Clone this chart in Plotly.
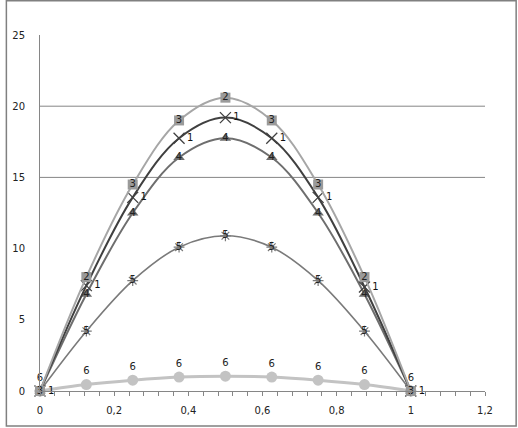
import plotly.graph_objects as go

x = [0, 0.125, 0.25, 0.375, 0.5, 0.625, 0.75, 0.875, 1]

s_square = [0, 8.0, 14.5, 19.0, 20.6, 19.0, 14.5, 8.0, 0]
s_cross = [0, 7.4, 13.6, 17.75, 19.2, 17.75, 13.6, 7.3, 0]
s_tri = [0, 6.8, 12.5, 16.4, 17.75, 16.4, 12.5, 6.8, 0]
s_star = [0, 4.2, 7.75, 10.1, 10.9, 10.1, 7.75, 4.2, 0]
s_circ = [0, 0.45, 0.76, 0.98, 1.04, 0.98, 0.76, 0.45, 0]

lab_square = ["3", "2", "3", "3", "2", "3", "3", "2", "3"]
lab_cross = ["1"] * 9
lab_tri = ["4"] * 9
lab_star = ["5"] * 9
lab_circ = ["6"] * 9

x_ticks = [0, 0.2, 0.4, 0.6, 0.8, 1, 1.2]
x_ticktext = ["0", "0,2", "0,4", "0,6", "0,8", "1", "1,2"]
y_ticks = [0, 5, 10, 15, 20, 25]
grid_y = [15, 20]

FONT = "DejaVu Sans"

fig = go.Figure()

fig.add_trace(go.Scatter(
    x=x, y=s_circ, mode="lines+markers+text", line=dict(color="#C3C3C3", width=3, shape="spline"),
    marker=dict(symbol="circle", size=11, color="#C3C3C3"),
    text=lab_circ, textposition="top center", textfont=dict(family=FONT, size=10, color="#222"),
    cliponaxis=False))
fig.add_trace(go.Scatter(
    x=x, y=s_star, mode="lines+markers+text", line=dict(color="#7A7A7A", width=1.6, shape="spline"),
    marker=dict(symbol="asterisk-open", size=9, line=dict(color="#7A7A7A", width=1.2)),
    text=lab_star, textposition="middle center", textfont=dict(family=FONT, size=10, color="#222"),
    cliponaxis=False))
fig.add_trace(go.Scatter(
    x=x, y=s_tri, mode="lines+markers+text", line=dict(color="#6E6E6E", width=2, shape="spline"),
    marker=dict(symbol="triangle-up", size=10, color="#6E6E6E"),
    text=lab_tri, textposition="middle center", textfont=dict(family=FONT, size=10, color="#222"),
    cliponaxis=False))
fig.add_trace(go.Scatter(
    x=x, y=s_cross, mode="lines+markers+text", line=dict(color="#404040", width=2, shape="spline"),
    marker=dict(symbol="x-thin-open", size=11, line=dict(color="#404040", width=1.3)),
    text=lab_cross, textposition="middle right", textfont=dict(family=FONT, size=10, color="#111"),
    cliponaxis=False))
fig.add_trace(go.Scatter(
    x=x, y=s_square, mode="lines+markers+text", line=dict(color="#A6A6A6", width=2, shape="spline"),
    marker=dict(symbol="square", size=10, color="#9A9A9A"),
    text=lab_square, textposition="middle center", textfont=dict(family=FONT, size=10, color="#222"),
    cliponaxis=False))

for gy in grid_y:
    fig.add_shape(type="line", xref="paper", yref="y", x0=0, x1=1, y0=gy, y1=gy,
                  line=dict(color="#868686", width=1), layer="below")

L, R, T, B = 35, 33, 35, 36.5
W, H = 518, 428
pw, ph = W - L - R, H - T - B
fig.add_shape(type="rect", xref="paper", yref="paper",
              x0=(1 - L) / pw, x1=(W - 1.5 - L) / pw,
              y0=-(B - 1.5) / ph, y1=(H - B - 0.8) / ph,
              line=dict(color="#808080", width=1.5), layer="below")

fig.update_layout(
    width=W, height=H, margin=dict(l=L, r=R, t=T, b=B),
    paper_bgcolor="white", plot_bgcolor="white", showlegend=False,
    font=dict(family=FONT, size=10, color="#222"),
)
fig.update_xaxes(range=[0, 1.2], tickvals=x_ticks, ticktext=x_ticktext, showgrid=False, zeroline=False,
                 showline=True, linecolor="#868686", linewidth=1, ticks="outside", ticklen=4,
                 tickcolor="#868686", ticklabelstandoff=6,
                 minor=dict(dtick=0.04, tick0=0, ticks="outside", ticklen=4, tickcolor="#868686", showgrid=False))
fig.update_yaxes(range=[0, 25], tickvals=y_ticks, showgrid=False, zeroline=False,
                 showline=True, linecolor="#868686", linewidth=1, ticks="", ticklabelstandoff=12)

fig.write_html("out.html", config={"displayModeBar": False},
               post_script="document.body.style.margin='0';document.body.style.overflow='hidden';")
